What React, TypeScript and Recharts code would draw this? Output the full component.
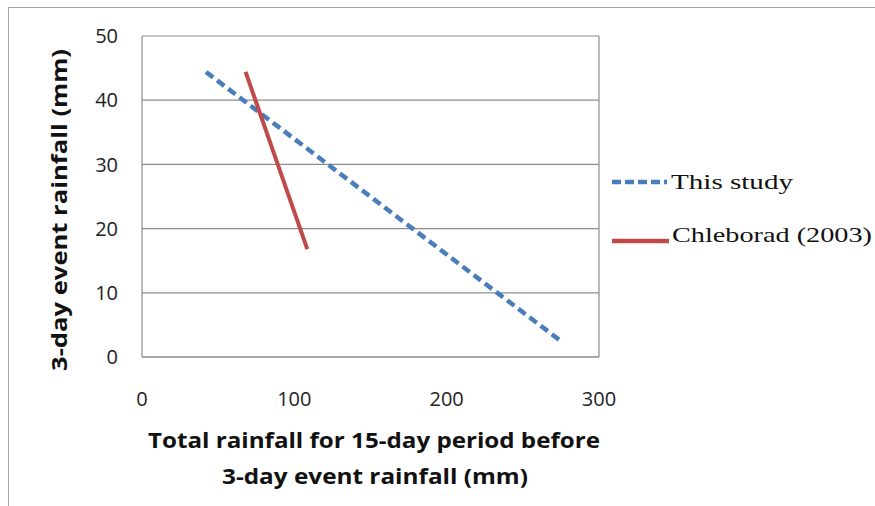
import {
  LineChart, Line, XAxis, YAxis, CartesianGrid, ReferenceLine, Label,
} from 'recharts';

const xTicks = [0, 100, 200, 300];
const yTicks = [0, 10, 20, 30, 40, 50];

const thisStudyX = [42, 276];
const thisStudyY = [44.4, 2.3];
const chleboradX = [68, 108.5];
const chleboradY = [44.4, 16.8];

const thisStudy = thisStudyX.map((x, i) => ({ x, y: thisStudyY[i] }));
const chleborad = chleboradX.map((x, i) => ({ x, y: chleboradY[i] }));

const BLUE = '#4a7ebb';
const RED = '#be4b48';
const GRID = '#8c8c8c';
const SANS = 'Open Sans, sans-serif';

const tickStyle = { fontSize: 20, fill: '#222', fontFamily: SANS };

function XTitle() {
  return (
    <text textAnchor="middle" fontFamily={SANS} fontWeight="bold" fontSize={22} fill="#111">
      <tspan x={374} y={448} textLength={452} lengthAdjust="spacingAndGlyphs">
        Total rainfall for 15-day period before
      </tspan>
      <tspan x={375} y={484} textLength={306} lengthAdjust="spacingAndGlyphs">
        3-day event rainfall (mm)
      </tspan>
    </text>
  );
}

function YTitle() {
  return (
    <text
      x={58}
      y={210}
      transform="rotate(-90 58 210)"
      textAnchor="middle"
      dominantBaseline="central"
      fontFamily={SANS}
      fontWeight="bold"
      fontSize={22}
      fill="#111"
      textLength={322}
      lengthAdjust="spacingAndGlyphs"
    >
      3-day event rainfall (mm)
    </text>
  );
}

function LegendBox() {
  const serif = 'Liberation Serif, serif';
  return (
    <svg width={270} height={120} style={{ position: 'absolute', left: 605, top: 150 }}>
      <line x1={7} y1={32} x2={62} y2={32} stroke={BLUE} strokeWidth={4.5} strokeDasharray="9 4" />
      <text x={66} y={39} fontFamily={serif} fontSize={22} fill="#111" textLength={122} lengthAdjust="spacingAndGlyphs">
        This study
      </text>
      <line x1={7} y1={91} x2={64} y2={91} stroke={RED} strokeWidth={4.5} />
      <text x={67} y={92} fontFamily={serif} fontSize={22} fill="#111" textLength={200} lengthAdjust="spacingAndGlyphs">
        Chleborad (2003)
      </text>
    </svg>
  );
}

export default function App() {
  return (
    <div style={{ position: 'absolute', left: 0, top: 0, width: 875, height: 506, background: '#fff', overflow: 'hidden' }}>
      <div style={{ position: 'absolute', left: 8, top: 7, width: 900, height: 520, border: '1.5px solid #a6a6a6' }} />
      <LineChart
        width={875}
        height={506}
        margin={{ top: 36, right: 276, left: 0, bottom: 0 }}
        style={{ position: 'absolute', left: 0, top: 0 }}
      >
        <CartesianGrid horizontal vertical={false} stroke={GRID} strokeWidth={1.2} />
        <XAxis
          type="number"
          dataKey="x"
          domain={[0, 300]}
          ticks={xTicks}
          height={149}
          tickSize={0}
          tickMargin={35}
          tick={tickStyle}
          axisLine={{ stroke: GRID, strokeWidth: 1.2 }}
          allowDuplicatedCategory={false}
        >
          <Label content={<XTitle />} />
        </XAxis>
        <YAxis
          type="number"
          dataKey="y"
          domain={[0, 50]}
          ticks={yTicks}
          width={142}
          tickSize={0}
          tickMargin={24}
          tick={tickStyle}
          axisLine={{ stroke: GRID, strokeWidth: 1.2 }}
        >
          <Label content={<YTitle />} />
        </YAxis>
        <ReferenceLine x={300} stroke={GRID} strokeWidth={1.2} />
        <Line
          data={thisStudy}
          dataKey="y"
          name="This study"
          stroke={BLUE}
          strokeWidth={4.5}
          strokeDasharray="9 5"
          dot={false}
          isAnimationActive={false}
        />
        <Line
          data={chleborad}
          dataKey="y"
          name="Chleborad (2003)"
          stroke={RED}
          strokeWidth={4}
          dot={false}
          isAnimationActive={false}
        />
      </LineChart>
      <LegendBox />
    </div>
  );
}
